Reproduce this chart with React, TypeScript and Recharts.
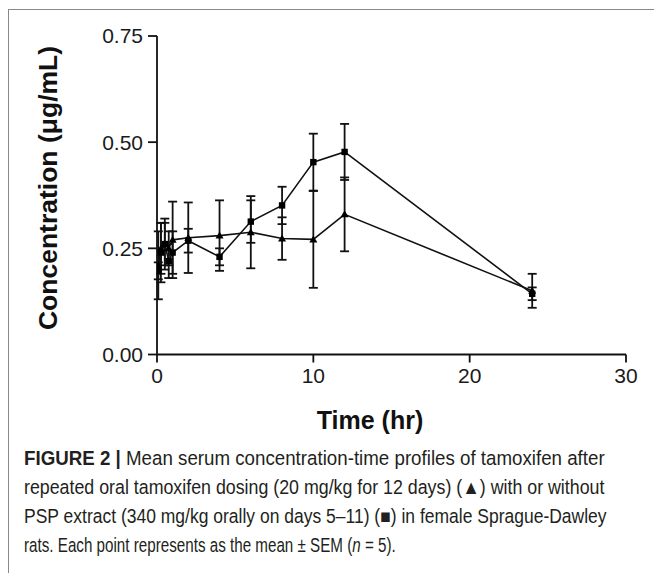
import React, { useLayoutEffect, useRef, useState } from "react";
import { LineChart, Line, XAxis, YAxis, ErrorBar, Label } from "recharts";

const times = [0.083, 0.25, 0.5, 0.75, 1, 2, 4, 6, 8, 10, 12, 24];
const tamoxifen = [0.21, 0.25, 0.26, 0.25, 0.27, 0.275, 0.28, 0.288, 0.273, 0.271, 0.33, 0.15];
const tamoxifenSem = [0.08, 0.06, 0.05, 0.04, 0.09, 0.083, 0.083, 0.085, 0.05, 0.114, 0.087, 0.04];
const withPsp = [0.197, 0.24, 0.26, 0.22, 0.24, 0.268, 0.23, 0.313, 0.351, 0.453, 0.477, 0.143];
const withPspSem = [0.02, 0.07, 0.06, 0.04, 0.05, 0.028, 0.02, 0.05, 0.044, 0.067, 0.066, 0.015];
const xTicks = [0, 10, 20, 30];
const yTicks = [0, 0.25, 0.5, 0.75];
const captionLines = [
  "Mean serum concentration-time profiles of tamoxifen after",
  "repeated oral tamoxifen dosing (20 mg/kg for 12 days) (\u25B2) with or without",
  "PSP extract (340 mg/kg orally on days 5\u201311) (\u25A0) in female Sprague-Dawley",
  "rats. Each point represents as the mean \u00B1 SEM (",
];

const triData = times.map((t, i) => ({ t, v: tamoxifen[i], e: tamoxifenSem[i] }));
const sqData = times.map((t, i) => ({ t, v: withPsp[i], e: withPspSem[i] }));

const FONT = "'Liberation Sans', Arial, sans-serif";

const Square = (props: any) => {
  const { cx, cy } = props;
  if (cx == null || cy == null) return null;
  return <rect x={cx - 3.2} y={cy - 3.2} width={6.4} height={6.4} fill="#000" />;
};
const Triangle = (props: any) => {
  const { cx, cy } = props;
  if (cx == null || cy == null) return null;
  return <path d={`M${cx},${cy - 4} L${cx + 4},${cy + 3} L${cx - 4},${cy + 3} Z`} fill="#000" />;
};

const YTitle = () => {
  const cx = 48;
  const cy = 188;
  return (
    <text x={cx} y={cy} transform={`rotate(-90 ${cx} ${cy})`} textAnchor="middle" dominantBaseline="central"
      fontFamily={FONT} fontWeight="bold" fontSize={26.5} fill="#111">
      Concentration (μg/mL)
    </text>
  );
};
const XTitle = () => (
  <text x={370} y={429} textAnchor="middle" fontFamily={FONT} fontWeight="bold" fontSize={25} fill="#111">
    Time (hr)
  </text>
);

const CaptionLine = ({ x, y, width, children }: any) => {
  const ref = useRef<SVGTextElement>(null);
  const [sx, setSx] = useState(1);
  useLayoutEffect(() => {
    if (ref.current) {
      const w = ref.current.getComputedTextLength();
      if (w > 0) setSx(width / w);
    }
  }, [width]);
  return (
    <text ref={ref} transform={`translate(${x} ${y}) scale(${sx} 1)`} x={0} y={0}
      fontFamily={FONT} fontSize={19.5} fill="#231f20">
      {children}
    </text>
  );
};

export default function App() {
  const caps = [465, 494, 523, 552];
  return (
    <div style={{ position: "absolute", left: 0, top: 0, width: 654, height: 573, background: "#fff" }}>
      <svg width={654} height={573} style={{ position: "absolute", left: 0, top: 0 }}>
        <line x1={8} y1={9.5} x2={654} y2={9.5} stroke="#888" strokeWidth={1} />
        <line x1={8.5} y1={9} x2={8.5} y2={573} stroke="#888" strokeWidth={1} />
        <CaptionLine x={24} y={caps[0]} width={581}>
          <tspan fontWeight="bold">FIGURE 2 | </tspan>{captionLines[0]}
        </CaptionLine>
        <CaptionLine x={24} y={caps[1]} width={581}>{captionLines[1]}</CaptionLine>
        <CaptionLine x={24} y={caps[2]} width={583}>{captionLines[2]}</CaptionLine>
        <CaptionLine x={24} y={caps[3]} width={372}>
          {captionLines[3]}<tspan fontStyle="italic">n</tspan> = 5).
        </CaptionLine>
      </svg>
      <div style={{ position: "absolute", left: 0, top: 0 }}>
        <LineChart width={654} height={440} margin={{ top: 36, right: 28, left: 0, bottom: 0 }}>
          <XAxis
            type="number"
            dataKey="t"
            domain={[0, 30]}
            ticks={xTicks}
            allowDataOverflow
            height={85.5}
            tickSize={8}
            tickMargin={6}
            axisLine={{ stroke: "#111", strokeWidth: 1.8 }}
            tickLine={{ stroke: "#111", strokeWidth: 1.8 }}
            tick={{ fill: "#1a1a1a", fontSize: 21, fontFamily: FONT }}
          >
            <Label content={<XTitle />} />
          </XAxis>
          <YAxis
            type="number"
            domain={[0, 0.75]}
            ticks={yTicks}
            width={157}
            tickSize={9}
            tickMargin={5}
            tickFormatter={(v: number) => v.toFixed(2)}
            axisLine={{ stroke: "#111", strokeWidth: 1.8 }}
            tickLine={{ stroke: "#111", strokeWidth: 1.8 }}
            tick={{ fill: "#1a1a1a", fontSize: 21, fontFamily: FONT }}
          >
            <Label content={<YTitle />} />
          </YAxis>
          <Line
            data={triData}
            dataKey="v"
            stroke="#111"
            strokeWidth={1.6}
            dot={<Triangle />}
            activeDot={false}
            isAnimationActive={false}
          >
            <ErrorBar dataKey="e" direction="y" width={4.5} stroke="#111" strokeWidth={1.8} isAnimationActive={false} />
          </Line>
          <Line
            data={sqData}
            dataKey="v"
            stroke="#111"
            strokeWidth={1.6}
            dot={<Square />}
            activeDot={false}
            isAnimationActive={false}
          >
            <ErrorBar dataKey="e" direction="y" width={4.5} stroke="#111" strokeWidth={1.8} isAnimationActive={false} />
          </Line>
        </LineChart>
      </div>
    </div>
  );
}
